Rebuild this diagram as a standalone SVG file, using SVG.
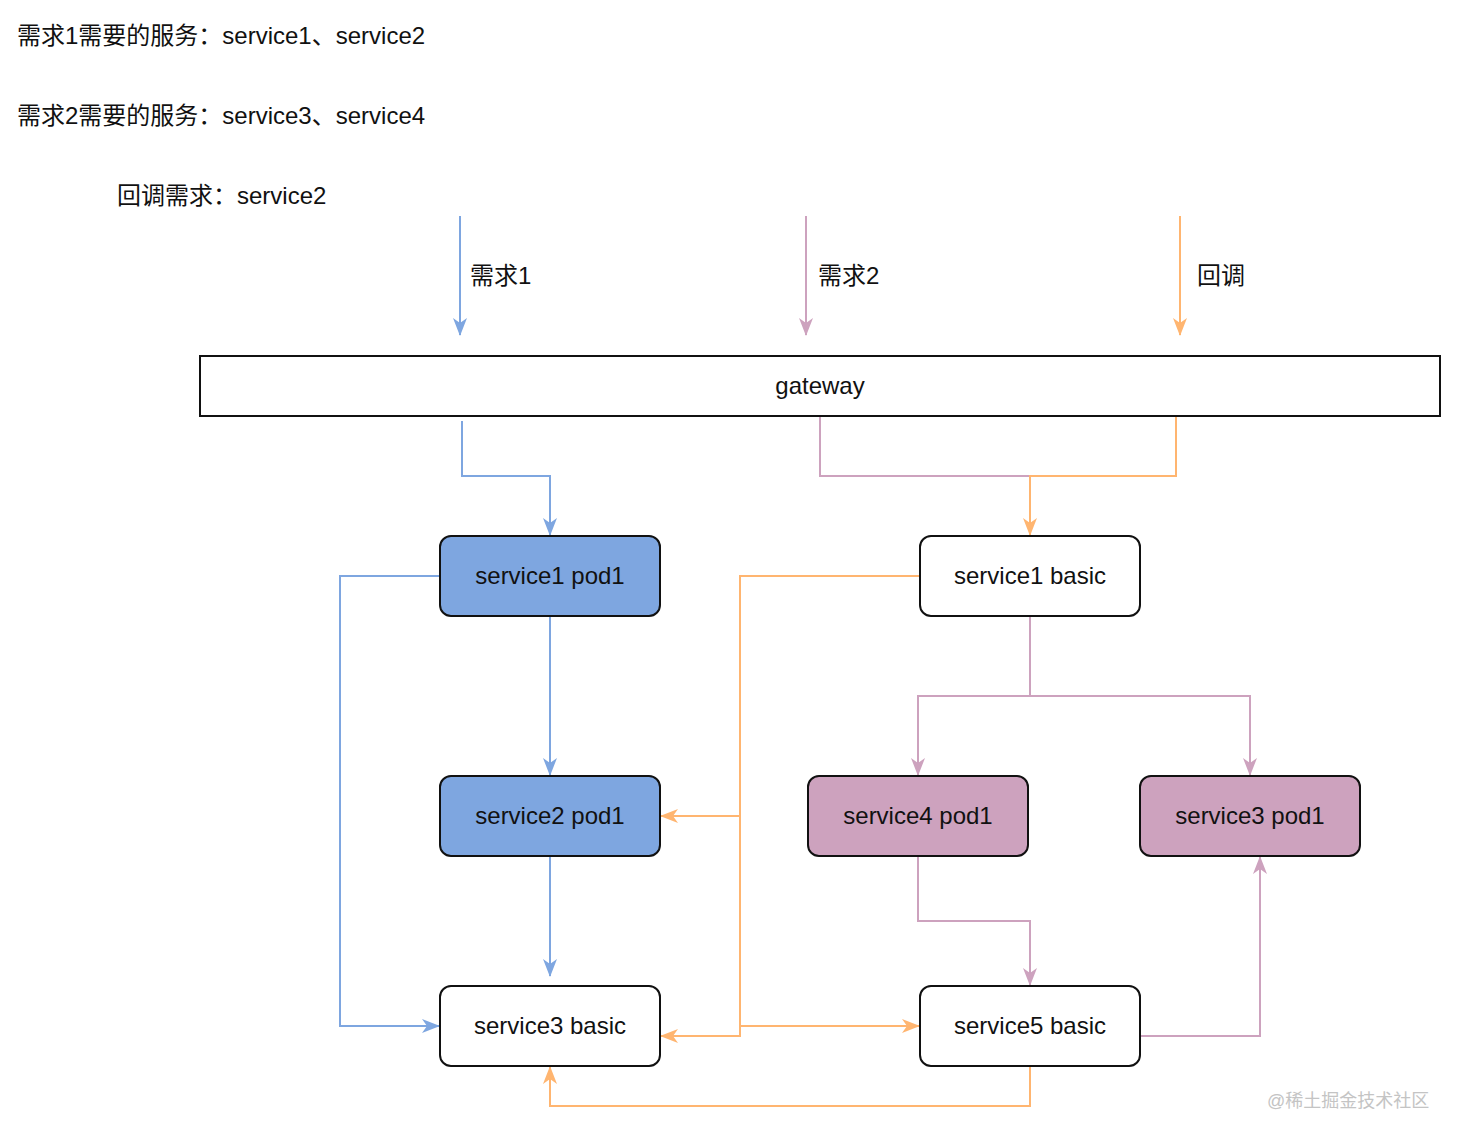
<svg xmlns="http://www.w3.org/2000/svg" width="1457" height="1140" viewBox="0 0 1457 1140">
<style>
text{font-family:"Liberation Sans","Noto Sans CJK SC",Arial,sans-serif;font-size:24px;fill:#111}
.c{text-anchor:middle}
.node{stroke:#111;stroke-width:2}
.ln{fill:none;stroke-width:2}
.b{stroke:#7EA6E0}
.p{stroke:#CDA2BE}
.o{stroke:#FFB570}
.wm{font-size:18px;fill:#c4c4c4}
</style>
<defs>
<marker id="ab" markerUnits="userSpaceOnUse" markerWidth="18" markerHeight="16" viewBox="0 0 18 16" refX="17" refY="8" orient="auto"><path d="M0,1 L18,8 L0,15 L5,8 Z" fill="#7EA6E0"/></marker>
<marker id="ap" markerUnits="userSpaceOnUse" markerWidth="18" markerHeight="16" viewBox="0 0 18 16" refX="17" refY="8" orient="auto"><path d="M0,1 L18,8 L0,15 L5,8 Z" fill="#CDA2BE"/></marker>
<marker id="ao" markerUnits="userSpaceOnUse" markerWidth="18" markerHeight="16" viewBox="0 0 18 16" refX="17" refY="8" orient="auto"><path d="M0,1 L18,8 L0,15 L5,8 Z" fill="#FFB570"/></marker>
</defs>
<rect width="1457" height="1140" fill="#fff"/>
<g id="notes">
<text x="17" y="44">需求1需要的服务：service1、service2</text>
<text x="17" y="124">需求2需要的服务：service3、service4</text>
<text x="117" y="204">回调需求：service2</text>
<text x="470" y="284">需求1</text>
<text x="818" y="284">需求2</text>
<text x="1197" y="284">回调</text>
<text class="wm" x="1267" y="1107">@稀土掘金技术社区</text>
</g>
<g id="connectors">
<path class="ln b" d="M460,216 V335" marker-end="url(#ab)"/>
<path class="ln p" d="M806,216 V335" marker-end="url(#ap)"/>
<path class="ln o" d="M1180,216 V335" marker-end="url(#ao)"/>
<path class="ln b" d="M462,421 V476 H550 V535" marker-end="url(#ab)"/>
<path class="ln p" d="M820,416 V476 H1030"/>
<path class="ln o" d="M1176,416 V476 H1030 V535" marker-end="url(#ao)"/>
<path class="ln b" d="M550,616 V775" marker-end="url(#ab)"/>
<path class="ln b" d="M550,856 V976" marker-end="url(#ab)"/>
<path class="ln b" d="M440,576 H340 V1026 H439" marker-end="url(#ab)"/>
<path class="ln o" d="M920,576 H740 V816 H661" marker-end="url(#ao)"/>
<path class="ln o" d="M740,816 V1036 H661" marker-end="url(#ao)"/>
<path class="ln o" d="M740,1026 H919" marker-end="url(#ao)"/>
<path class="ln p" d="M1030,616 V696 H918 V775" marker-end="url(#ap)"/>
<path class="ln p" d="M1030,696 H1250 V775" marker-end="url(#ap)"/>
<path class="ln p" d="M918,856 V921 H1030 V985" marker-end="url(#ap)"/>
<path class="ln p" d="M1140,1036 H1260 V857" marker-end="url(#ap)"/>
<path class="ln o" d="M1030,1066 V1106 H550 V1067" marker-end="url(#ao)"/>
</g>
<g id="gateway">
<rect class="node" x="200" y="356" width="1240" height="60" fill="#fff"/>
<text class="c" x="820" y="394">gateway</text>
</g>
<g id="service1-pod1">
<rect class="node" x="440" y="536" width="220" height="80" rx="11" fill="#7EA6E0"/>
<text class="c" x="550" y="584">service1 pod1</text>
</g>
<g id="service2-pod1">
<rect class="node" x="440" y="776" width="220" height="80" rx="11" fill="#7EA6E0"/>
<text class="c" x="550" y="824">service2 pod1</text>
</g>
<g id="service3-basic">
<rect class="node" x="440" y="986" width="220" height="80" rx="11" fill="#fff"/>
<text class="c" x="550" y="1034">service3 basic</text>
</g>
<g id="service1-basic">
<rect class="node" x="920" y="536" width="220" height="80" rx="11" fill="#fff"/>
<text class="c" x="1030" y="584">service1 basic</text>
</g>
<g id="service4-pod1">
<rect class="node" x="808" y="776" width="220" height="80" rx="11" fill="#CDA2BE"/>
<text class="c" x="918" y="824">service4 pod1</text>
</g>
<g id="service3-pod1">
<rect class="node" x="1140" y="776" width="220" height="80" rx="11" fill="#CDA2BE"/>
<text class="c" x="1250" y="824">service3 pod1</text>
</g>
<g id="service5-basic">
<rect class="node" x="920" y="986" width="220" height="80" rx="11" fill="#fff"/>
<text class="c" x="1030" y="1034">service5 basic</text>
</g>
</svg>
